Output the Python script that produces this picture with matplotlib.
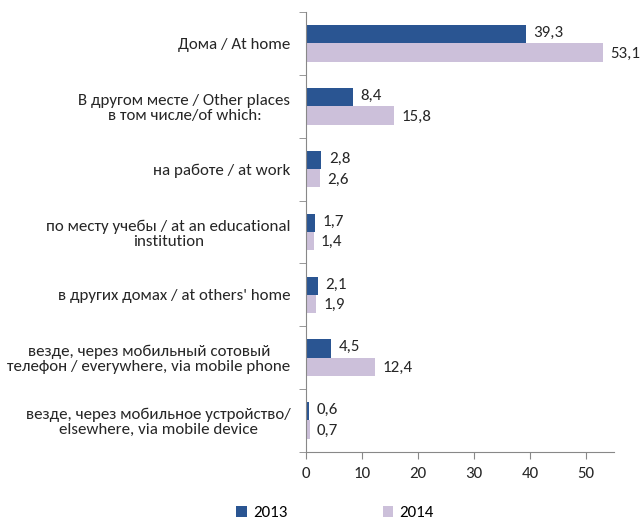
import matplotlib
matplotlib.use("Agg")
import matplotlib.pyplot as plt
import numpy as np

categories = [
    "Дома / At home",
    "В другом месте / Other places\nв том числе/of which:",
    "на работе / at work",
    "по месту учебы / at an educational\ninstitution",
    "в других домах / at others' home",
    "везде, через мобильный сотовый\nтелефон / everywhere, via mobile phone",
    "везде, через мобильное устройство/\nelsewhere, via mobile device",
]
v2013 = [39.3, 8.4, 2.8, 1.7, 2.1, 4.5, 0.6]
v2014 = [53.1, 15.8, 2.6, 1.4, 1.9, 12.4, 0.7]
labels2013 = ["39,3", "8,4", "2,8", "1,7", "2,1", "4,5", "0,6"]
labels2014 = ["53,1", "15,8", "2,6", "1,4", "1,9", "12,4", "0,7"]
series_names = ["2013", "2014"]
xticks = [0, 10, 20, 30, 40, 50]

plt.rcParams['font.family'] = ['Carlito', 'DejaVu Sans']
fig = plt.figure(figsize=(6.41, 5.23), dpi=100)
ax = fig.add_axes([0.477, 0.136, 0.481, 0.841])

c13 = "#2A5592"
c14 = "#CCC0DA"
tc = "#262626"
fs = 12.2
n = len(categories)
y = np.arange(n)
h = 0.29
b1 = ax.barh(y - h/2, v2013, height=h, color=c13, label=series_names[0])
b2 = ax.barh(y + h/2, v2014, height=h, color=c14, label=series_names[1])
for rect, lab in zip(b1, labels2013):
    ax.text(rect.get_width() + 1.3, rect.get_y() + rect.get_height()/2 - 0.02, lab,
            va="center", ha="left", fontsize=fs, color=tc)
for rect, lab in zip(b2, labels2014):
    ax.text(rect.get_width() + 1.3, rect.get_y() + rect.get_height()/2 + 0.02, lab,
            va="center", ha="left", fontsize=fs, color=tc)

ax.set_ylim(n - 0.5, -0.5)
ax.set_xlim(0, 55)
ax.set_yticks(y)
ax.set_yticklabels(categories, fontsize=fs, color=tc)
for t in ax.get_yticklabels():
    t.set_multialignment("center")
    t.set_linespacing(1.1)
ax.tick_params(axis="y", which="major", length=0, pad=11)
ax.set_yticks(np.arange(-0.5, n, 1), minor=True)
ax.tick_params(axis="y", which="minor", length=5, direction="out", color="#888888")
ax.set_xticks(xticks)
ax.set_xticklabels([str(t) for t in xticks], fontsize=fs, color=tc)
ax.tick_params(axis="x", length=5, direction="out", color="#888888", pad=6)
for s in ["top", "right"]:
    ax.spines[s].set_visible(False)
for s in ["left", "bottom"]:
    ax.spines[s].set_color("#888888")

fig.legend(handles=[b1, b2], labels=series_names, loc="center",
           bbox_to_anchor=(0.523, 0.019), ncol=2, frameon=False,
           fontsize=fs, handlelength=0.6, handleheight=0.6,
           columnspacing=5.6, handletextpad=0.4)

fig.savefig("out.png", dpi=100)
